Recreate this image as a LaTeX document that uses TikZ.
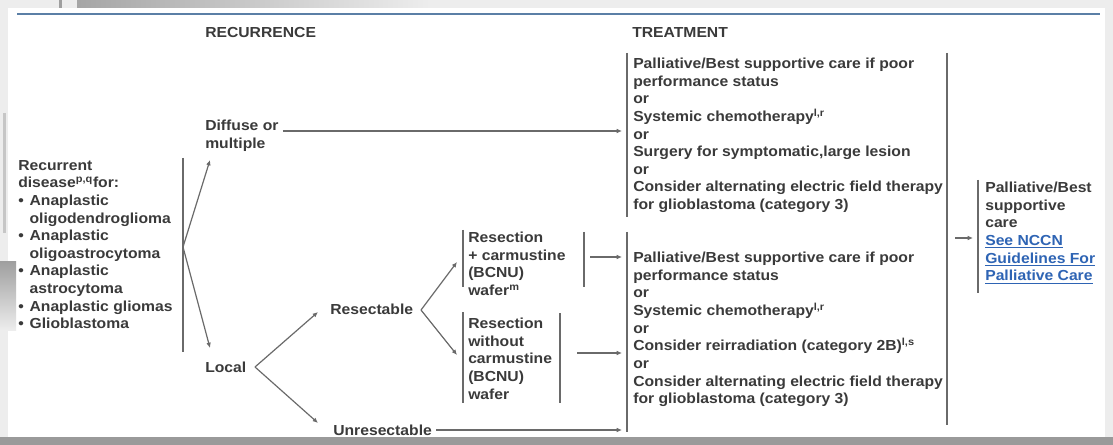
\documentclass[tikz,border=0pt]{standalone}
\usepackage{fontspec}
\setmainfont[FakeStretch=1.08]{Liberation Sans}
\usetikzlibrary{arrows.meta}
\definecolor{ink}{HTML}{3A3A3A}
\definecolor{rulegray}{HTML}{6A6A6A}
\definecolor{bandblue}{HTML}{5B7FA6}
\definecolor{linkblue}{HTML}{2E64B4}
\definecolor{frame}{HTML}{EDEDED}
\definecolor{foot}{HTML}{9A9A9A}
\newcommand{\bul}{\makebox[8.5pt][l]{•}}
\newcommand{\ind}{\hspace*{8.5pt}}
\newcommand{\lnk}[1]{\textcolor{linkblue}{\underline{#1}}}
\tikzset{
  txt/.style={font=\fontsize{10.9}{13.2}\selectfont\bfseries, text=ink,
              inner sep=0pt, anchor=north west, align=left},
  bar/.style={draw=rulegray, line width=1pt},
  arr/.style={draw=rulegray, line width=0.9pt, -{Latex[length=4pt,width=3.5pt]}}
}
\begin{document}
\begin{tikzpicture}[x=0.75pt,y=-0.75pt]
\useasboundingbox (0,0) rectangle (1113,445);
% page, frame and window edges
\fill[frame] (0,0) rectangle (1113,445);
\fill[white] (8,8) rectangle (1105,437);
\fill[foot] (0,437) rectangle (1113,445);
\fill[gray!75] (59,0) rectangle (62,8);
\shade[left color=gray!70, right color=frame] (77,0) rectangle (430,8);
\fill[gray!45] (3,113) rectangle (6,233);
\shade[top color=gray!75, bottom color=frame] (0,262) rectangle (16,330);
\draw[bandblue, line width=2pt] (17,14) -- (1100,14);

% column headings
\node[txt] (rec) at (205,27) {RECURRENCE};
\node[txt] (trt) at (632,27) {TREATMENT};

% recurrence column
\node[txt] (dis) at (18,160) {Recurrent\\disease\textsuperscript{p,q}for:\\
  \bul Anaplastic\\\ind oligodendroglioma\\
  \bul Anaplastic\\\ind oligoastrocytoma\\
  \bul Anaplastic\\\ind astrocytoma\\
  \bul Anaplastic gliomas\\
  \bul Glioblastoma};
\node[txt] (diff) at (205,120) {Diffuse or\\multiple};
\node[txt] (local) at (205,362) {Local};
\node[txt] (res) at (330,304) {Resectable};
\node[txt] (unres) at (333,425) {Unresectable};
\node[txt] (rc) at (468,232) {Resection\\+ carmustine\\(BCNU)\\wafer\textsuperscript{m}};
\node[txt] (rw) at (468,318) {Resection\\without\\carmustine\\(BCNU)\\wafer};

% treatment column
\node[txt] (t1) at (633,58) {Palliative/Best supportive care if poor\\
  performance status\\or\\Systemic chemotherapy\textsuperscript{l,r}\\or\\
  Surgery for symptomatic,large lesion\\or\\
  Consider alternating electric field therapy\\for glioblastoma (category 3)};
\node[txt] (t2) at (633,252) {Palliative/Best supportive care if poor\\
  performance status\\or\\Systemic chemotherapy\textsuperscript{l,r}\\or\\
  Consider reirradiation (category 2B)\textsuperscript{l,s}\\or\\
  Consider alternating electric field therapy\\for glioblastoma (category 3)};
\node[txt] (pal) at (985,182) {Palliative/Best\\supportive\\care\\
  \lnk{See NCCN}\\\lnk{Guidelines For}\\\lnk{Palliative Care}};

% brackets
\draw[bar] (183,158) coordinate (disTop) -- (183,352) coordinate (disBot);
\draw[bar] (463,230) -- (463,287);
\draw[bar] (584,232) coordinate (rcR) -- (584,287);
\draw[bar] (463,312) -- (463,403);
\draw[bar] (560,313) coordinate (rwR) -- (560,403);
\draw[bar] (627,53) -- (627,217);
\draw[bar] (627,232) -- (627,432);
\draw[bar] (947,53) coordinate (allR) -- (947,425);
\draw[bar] (978,180) -- (978,293);

% branch points and arrow ends
\coordinate (sDis) at (183,247);
\coordinate (sLocal) at (255,367);
\coordinate (sRes) at (421,310);
\coordinate (toDiff) at (210,160);
\coordinate (toLocal) at (210,348);
\coordinate (toRes) at (318,312);
\coordinate (toUnres) at (318,423);
\coordinate (toRc) at (457,262);
\coordinate (toRw) at (457,355);
\coordinate (t1In) at (622,131);
\coordinate (t2InA) at (622,257);
\coordinate (t2InB) at (622,353);
\coordinate (t2InC) at (622,430);
\coordinate (palIn) at (973,238);

% connectors
\draw[arr] (diff.east |- t1In) ++(4,0) -- (t1In);
\draw[arr] (sDis) -- (toDiff);
\draw[arr] (sDis) -- (toLocal);
\draw[arr] (sLocal) -- (toRes);
\draw[arr] (sLocal) -- (toUnres);
\draw[arr] (sRes) -- (toRc);
\draw[arr] (sRes) -- (toRw);
\draw[arr] (rcR |- t2InA) ++(6,0) -- (t2InA);
\draw[arr] (rwR |- t2InB) ++(17,0) -- (t2InB);
\draw[arr] (unres.east |- t2InC) ++(4,0) -- (t2InC);
\draw[arr] (allR |- palIn) ++(8,0) -- (palIn);
\end{tikzpicture}
\end{document}
